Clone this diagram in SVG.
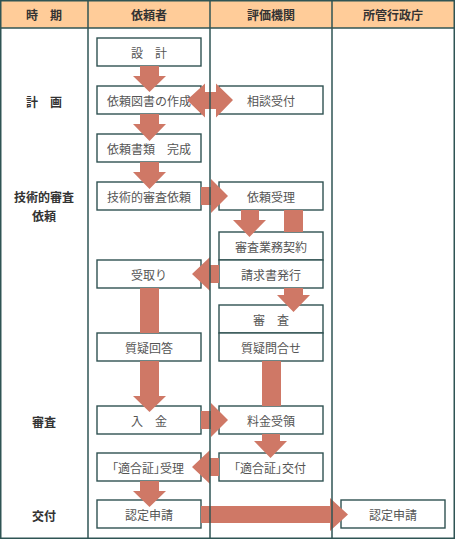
<svg xmlns="http://www.w3.org/2000/svg" width="455" height="539" viewBox="0 0 455 539">
<defs>
<style>
.bx{fill:#fff;stroke:#2f5252;stroke-width:1.4}
.ln{stroke:#2f5454;stroke-width:1.5;fill:none}
.ar{fill:#cf7866;stroke:none}
text{font-family:"Noto Sans CJK JP","Noto Sans",sans-serif;font-size:12px;text-anchor:middle;dominant-baseline:central}
.t{fill:#555}
.pa{font-feature-settings:"palt" 1}
.h{fill:#333;font-weight:bold}
.p{fill:#333;font-weight:bold}
</style>
</defs>
<rect x="0" y="0" width="455" height="28" fill="#ffcc99"/>
<g id="header">
<text class="h" x="44" y="14.5">時　期</text>
<text class="h" x="149" y="14.5">依頼者</text>
<text class="h" x="271" y="14.5">評価機関</text>
<text class="h" x="393" y="14.5">所管行政庁</text>
</g>
<g id="periods">
<text class="p" x="44" y="101">計　画</text>
<text class="p" x="44" y="196">技術的審査</text>
<text class="p" x="44" y="215">依頼</text>
<text class="p" x="44" y="421">審査</text>
<text class="p" x="44" y="515">交付</text>
</g>
<g id="n1"><rect class="bx" x="97" y="38" width="104" height="28"/><text class="t" x="149" y="52">設　計</text></g>
<g id="n2"><rect class="bx" x="97" y="86" width="104" height="28"/><text class="t" x="149" y="100">依頼図書の作成</text></g>
<g id="n3"><rect class="bx" x="219" y="86" width="104" height="28"/><text class="t" x="271" y="100">相談受付</text></g>
<g id="n4"><rect class="bx" x="97" y="134" width="104" height="28"/><text class="t" x="149" y="148">依頼書類　完成</text></g>
<g id="n5"><rect class="bx" x="97" y="182" width="104" height="28"/><text class="t" x="149" y="196">技術的審査依頼</text></g>
<g id="n6"><rect class="bx" x="219" y="182" width="104" height="28"/><text class="t" x="271" y="196">依頼受理</text></g>
<g id="n7"><rect class="bx" x="219" y="232" width="104" height="28"/><text class="t" x="271" y="246">審査業務契約</text></g>
<g id="n8"><rect class="bx" x="219" y="260" width="104" height="28"/><text class="t" x="271" y="274">請求書発行</text></g>
<g id="n9"><rect class="bx" x="97" y="260" width="104" height="28"/><text class="t" x="149" y="274">受取り</text></g>
<g id="n10"><rect class="bx" x="219" y="305" width="104" height="28"/><text class="t" x="271" y="319">審　査</text></g>
<g id="n11"><rect class="bx" x="219" y="333" width="104" height="28"/><text class="t" x="271" y="347">質疑問合せ</text></g>
<g id="n12"><rect class="bx" x="97" y="333" width="104" height="28"/><text class="t" x="149" y="347">質疑回答</text></g>
<g id="n13"><rect class="bx" x="97" y="406" width="104" height="28"/><text class="t" x="149" y="420">入　金</text></g>
<g id="n14"><rect class="bx" x="219" y="406" width="104" height="28"/><text class="t" x="271" y="420">料金受領</text></g>
<g id="n15"><rect class="bx" x="97" y="453" width="104" height="28"/><text class="t pa" x="148" y="467">「適合証」受理</text></g>
<g id="n16"><rect class="bx" x="219" y="453" width="104" height="28"/><text class="t pa" x="270" y="467">「適合証」交付</text></g>
<g id="n17"><rect class="bx" x="97" y="500" width="104" height="28"/><text class="t" x="149" y="514">認定申請</text></g>
<g id="n18"><rect class="bx" x="341" y="500" width="104" height="28"/><text class="t" x="393" y="514">認定申請</text></g>
<g id="connectors">
<polygon class="ar" points="140,66 159,66 159,76 166,76 149.5,92 133,76 140,76"/>
<polygon class="ar" points="140,114 159,114 159,124 166,124 149.5,141 133,124 140,124"/>
<polygon class="ar" points="140,162 159,162 159,172 166,172 149.5,189 133,172 140,172"/>
<polygon class="ar" points="187,100 205,83.5 205,92 216,92 216,83.5 233,100 216,117.5 216,109 205,109 205,117.5"/>
<polygon class="ar" points="201,187 211,187 211,179 228,196 211,213 211,205 201,205"/>
<polygon class="ar" points="241,210 259,210 259,220 266,220 249.5,237 233,220 241,220"/>
<rect class="ar" x="284" y="210" width="19" height="22"/>
<polygon class="ar" points="219,265 210,265 210,257 192,274 210,291 210,283 219,283"/>
<polygon class="ar" points="284,288 303,288 303,295 310,295 293.5,312 277,295 284,295"/>
<rect class="ar" x="140" y="288" width="19" height="45"/>
<polygon class="ar" points="140,361 159,361 159,396 166,396 149.5,412 133,396 140,396"/>
<rect class="ar" x="262" y="361" width="19" height="45"/>
<polygon class="ar" points="201,411 211,411 211,403 228,420 211,437 211,429 201,429"/>
<polygon class="ar" points="262,434 280,434 280,441 287,441 270.5,458 254,441 262,441"/>
<polygon class="ar" points="219,458 210,458 210,450 192,467 210,484 210,476 219,476"/>
<polygon class="ar" points="140,481 159,481 159,491 166,491 149.5,507 133,491 140,491"/>
<polygon class="ar" points="201,506 330,506 330,498 348,514.5 330,531 330,523 201,523"/>
</g>
<g id="grid">
<rect class="ln" x="0.75" y="0.75" width="453.5" height="537.5"/>
<line class="ln" x1="0" y1="28" x2="455" y2="28"/>
<line class="ln" x1="88" y1="0" x2="88" y2="539"/>
<line class="ln" x1="210" y1="0" x2="210" y2="539"/>
<line class="ln" x1="332" y1="0" x2="332" y2="539"/>
</g>
</svg>
